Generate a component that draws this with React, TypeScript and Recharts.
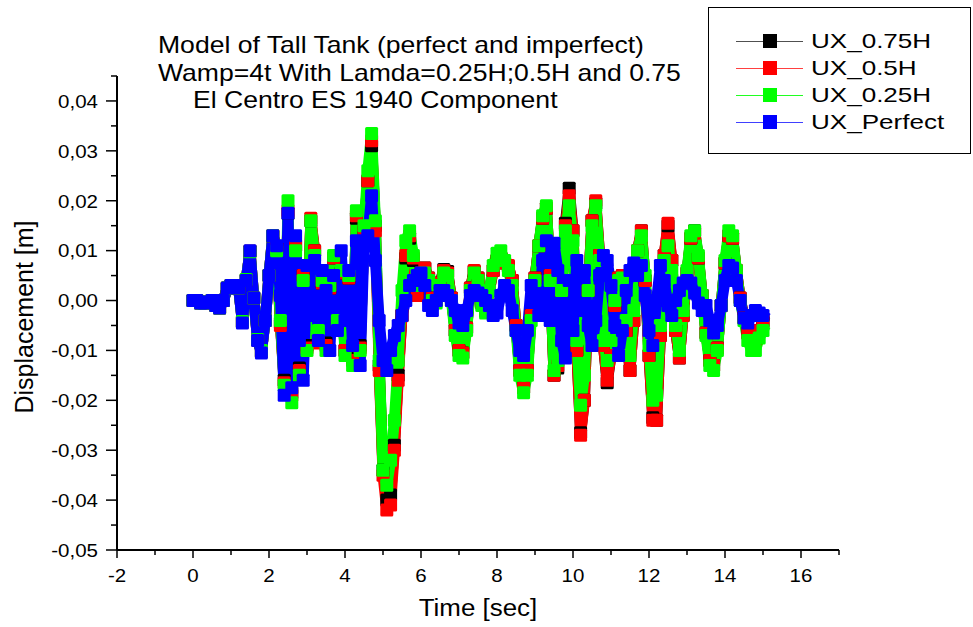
import React from 'react';
import { LineChart, Line, XAxis, YAxis, Legend } from 'recharts';

// sampling grid (s)
const time: number[] = Array.from({ length: 151 }, (_, i) => i / 10);

const uxPerfect: number[] = [
  0.0000, 0.0000, -0.0005, -0.0005, -0.0003, 0.0000, -0.0010, -0.0015, 0.0000, 0.0025,
  0.0030, 0.0030, 0.0025, -0.0045, 0.0040, 0.0100, 0.0005, -0.0080, -0.0105, -0.0040,
  0.0050, 0.0130, 0.0110, 0.0010, -0.0190, 0.0175, -0.0175, 0.0130, -0.0080, -0.0160,
  0.0070, -0.0030, 0.0080, -0.0080, 0.0060, 0.0020, -0.0100, 0.0050, -0.0060, 0.0100,
  -0.0040, 0.0060, -0.0090, 0.0120, -0.0130, 0.0110, 0.0130, 0.0210, 0.0080, -0.0040,
  -0.0120, -0.0140, -0.0100, -0.0070, -0.0050, -0.0030, 0.0000, 0.0030, 0.0040, 0.0050,
  0.0055, 0.0030, -0.0010, -0.0020, 0.0000, 0.0020, 0.0020, 0.0010, 0.0000, -0.0020,
  -0.0045, -0.0050, -0.0020, 0.0010, 0.0020, 0.0015, 0.0010, 0.0000, -0.0010, -0.0030,
  -0.0025, 0.0010, 0.0030, 0.0020, -0.0020, -0.0060, -0.0100, -0.0110, -0.0060, 0.0030,
  0.0010, -0.0030, 0.0080, 0.0120, -0.0040, 0.0115, 0.0060, -0.0080, -0.0115, 0.0040,
  -0.0060, 0.0080, -0.0020, 0.0060, -0.0050, -0.0090, -0.0040, 0.0050, 0.0090, 0.0080,
  0.0030, -0.0050, -0.0110, -0.0060, 0.0020, 0.0060, 0.0075, 0.0050, 0.0070, 0.0010,
  -0.0060, -0.0090, 0.0000, 0.0070, 0.0040, -0.0010, -0.0030, 0.0000, 0.0020, 0.0035,
  0.0040, 0.0035, 0.0015, -0.0005, -0.0020, -0.0010, -0.0040, -0.0065, -0.0050, -0.0010,
  0.0040, 0.0070, 0.0065, 0.0040, 0.0000, -0.0035, -0.0045, -0.0030, -0.0020, -0.0025,
  -0.0030,
];

const ux025H: number[] = [
  0.0000, 0.0000, -0.0005, -0.0005, -0.0003, 0.0000, -0.0010, -0.0015, 0.0000, 0.0025,
  0.0030, 0.0030, 0.0025, -0.0042, 0.0042, 0.0098, 0.0005, -0.0078, -0.0100, -0.0040,
  0.0050, 0.0130, 0.0100, -0.0040, -0.0170, 0.0200, -0.0205, 0.0100, -0.0150, 0.0040,
  -0.0100, 0.0160, 0.0090, -0.0060, 0.0040, -0.0100, 0.0030, 0.0090, -0.0040, 0.0060,
  -0.0110, 0.0050, -0.0130, 0.0180, -0.0100, 0.0150, 0.0260, 0.0335, 0.0160, -0.0120,
  -0.0340, -0.0370, -0.0320, -0.0240, -0.0120, 0.0020, 0.0120, 0.0140, 0.0090, 0.0030,
  0.0050, 0.0055, 0.0040, 0.0000, -0.0005, 0.0030, 0.0055, 0.0050, 0.0000, -0.0070,
  -0.0110, -0.0115, -0.0060, 0.0020, 0.0055, 0.0040, -0.0010, -0.0025, 0.0020, 0.0070,
  0.0095, 0.0100, 0.0080, 0.0060, 0.0030, -0.0060, -0.0150, -0.0185, -0.0150, -0.0040,
  0.0040, 0.0110, 0.0170, 0.0190, 0.0040, -0.0140, -0.0120, 0.0020, 0.0140, 0.0190,
  0.0120, -0.0080, -0.0210, -0.0150, 0.0020, 0.0150, 0.0190, 0.0080, -0.0080, -0.0120,
  -0.0080, 0.0000, 0.0040, 0.0045, -0.0040, -0.0110, -0.0020, 0.0100, 0.0130, 0.0050,
  -0.0090, -0.0200, -0.0190, -0.0050, 0.0080, 0.0110, 0.0060, -0.0050, -0.0100, -0.0020,
  0.0060, 0.0130, 0.0140, 0.0090, 0.0010, -0.0070, -0.0130, -0.0140, -0.0100, -0.0010,
  0.0080, 0.0140, 0.0130, 0.0060, 0.0000, -0.0040, -0.0080, -0.0100, -0.0100, -0.0075,
  -0.0060,
];

const ux05H: number[] = [
  0.0000, 0.0000, -0.0005, -0.0005, -0.0003, 0.0000, -0.0010, -0.0015, 0.0000, 0.0025,
  0.0030, 0.0030, 0.0025, -0.0043, 0.0041, 0.0099, 0.0005, -0.0079, -0.0102, -0.0040,
  0.0050, 0.0130, 0.0105, -0.0050, -0.0165, 0.0180, -0.0190, 0.0110, -0.0140, 0.0050,
  -0.0095, 0.0165, 0.0100, -0.0085, 0.0035, -0.0090, 0.0025, 0.0085, -0.0045, 0.0055,
  -0.0100, 0.0045, -0.0120, 0.0170, -0.0095, 0.0140, 0.0240, 0.0320, 0.0140, -0.0140,
  -0.0350, -0.0420, -0.0410, -0.0300, -0.0160, -0.0030, 0.0090, 0.0130, 0.0085, 0.0010,
  0.0055, 0.0065, 0.0045, 0.0005, 0.0000, 0.0035, 0.0060, 0.0055, 0.0005, -0.0060,
  -0.0100, -0.0105, -0.0055, 0.0025, 0.0060, 0.0045, -0.0005, -0.0020, 0.0020, 0.0060,
  0.0080, 0.0085, 0.0075, 0.0070, 0.0040, -0.0050, -0.0140, -0.0175, -0.0140, -0.0030,
  0.0045, 0.0110, 0.0165, 0.0185, 0.0050, -0.0150, -0.0130, 0.0020, 0.0150, 0.0210,
  0.0140, -0.0100, -0.0270, -0.0200, 0.0020, 0.0160, 0.0200, 0.0090, -0.0090, -0.0160,
  -0.0110, -0.0010, 0.0045, 0.0050, -0.0060, -0.0140, -0.0040, 0.0100, 0.0140, 0.0040,
  -0.0110, -0.0240, -0.0240, -0.0070, 0.0090, 0.0155, 0.0080, -0.0060, -0.0115, -0.0030,
  0.0055, 0.0125, 0.0135, 0.0085, 0.0010, -0.0065, -0.0120, -0.0130, -0.0095, -0.0010,
  0.0075, 0.0130, 0.0125, 0.0060, 0.0005, -0.0035, -0.0065, -0.0080, -0.0080, -0.0060,
  -0.0040,
];

const ux075H: number[] = [
  0.0000, 0.0000, -0.0005, -0.0005, -0.0003, 0.0000, -0.0010, -0.0015, 0.0000, 0.0025,
  0.0030, 0.0030, 0.0025, -0.0043, 0.0041, 0.0099, 0.0005, -0.0079, -0.0102, -0.0040,
  0.0050, 0.0130, 0.0105, -0.0045, -0.0160, 0.0175, -0.0185, 0.0110, -0.0135, 0.0050,
  -0.0090, 0.0160, 0.0100, -0.0080, 0.0035, -0.0085, 0.0025, 0.0085, -0.0045, 0.0055,
  -0.0100, 0.0045, -0.0115, 0.0165, -0.0090, 0.0140, 0.0240, 0.0310, 0.0150, -0.0130,
  -0.0340, -0.0400, -0.0390, -0.0290, -0.0150, -0.0030, 0.0085, 0.0125, 0.0080, 0.0010,
  0.0055, 0.0065, 0.0045, 0.0005, 0.0000, 0.0035, 0.0062, 0.0058, 0.0005, -0.0060,
  -0.0100, -0.0105, -0.0055, 0.0025, 0.0058, 0.0045, -0.0005, -0.0020, 0.0020, 0.0060,
  0.0080, 0.0085, 0.0075, 0.0068, 0.0040, -0.0050, -0.0140, -0.0175, -0.0140, -0.0030,
  0.0045, 0.0110, 0.0165, 0.0185, 0.0050, -0.0150, -0.0135, 0.0020, 0.0155, 0.0225,
  0.0140, -0.0100, -0.0265, -0.0200, 0.0020, 0.0160, 0.0195, 0.0090, -0.0090, -0.0165,
  -0.0110, -0.0010, 0.0045, 0.0050, -0.0060, -0.0140, -0.0040, 0.0100, 0.0140, 0.0040,
  -0.0110, -0.0235, -0.0240, -0.0070, 0.0090, 0.0150, 0.0080, -0.0060, -0.0115, -0.0030,
  0.0055, 0.0125, 0.0140, 0.0085, 0.0010, -0.0065, -0.0120, -0.0130, -0.0095, -0.0010,
  0.0075, 0.0130, 0.0125, 0.0060, 0.0005, -0.0035, -0.0065, -0.0080, -0.0080, -0.0060,
  -0.0042,
];

const seriesNames = ['UX_0.75H', 'UX_0.5H', 'UX_0.25H', 'UX_Perfect'];
const seriesKeys = ['ux075H', 'ux05H', 'ux025H', 'uxPerfect'];
const seriesColors = ['#000000', '#ff0000', '#00ff00', '#0000ff'];
const legendLineColors = ['#505050', '#ff4040', '#20ff20', '#4040ff'];

const xMajorTicks = [-2, 0, 2, 4, 6, 8, 10, 12, 14, 16];
const xMinorTicks = [-1, 1, 3, 5, 7, 9, 11, 13, 15, 17];
const yMajorTicks = [-0.05, -0.04, -0.03, -0.02, -0.01, 0, 0.01, 0.02, 0.03, 0.04];
const yMinorTicks = [-0.045, -0.035, -0.025, -0.015, -0.005, 0.005, 0.015, 0.025, 0.035, 0.045];

const titleLines = [
  'Model of Tall Tank (perfect and imperfect)',
  'Wamp=4t With Lamda=0.25H;0.5H and 0.75',
  'El Centro ES 1940 Component',
];

const data = time.map((t, i) => ({
  t,
  ux075H: ux075H[i],
  ux05H: ux05H[i],
  ux025H: ux025H[i],
  uxPerfect: uxPerfect[i],
}));

const FONT = '"Liberation Sans", Arial, Helvetica, sans-serif';

const fmtY = (v: number) => {
  const s = Math.abs(v).toFixed(2).replace('.', ',');
  return v < -1e-9 ? '-' + s : s;
};

const YTick = (p: any) => {
  const { x, y, payload } = p;
  const v = payload.value;
  const major = yMajorTicks.includes(v);
  return (
    <g>
      <line x1={x - (major ? 11 : 6)} x2={x} y1={y} y2={y} stroke="#000" strokeWidth={1.5} />
      {major && (
        <text
          transform={`translate(${x - 19},${y + 6.8}) scale(1.08,1)`}
          textAnchor="end"
          fontSize={19}
          fontFamily={FONT}
          fill="#000"
        >
          {fmtY(v)}
        </text>
      )}
    </g>
  );
};

const XTick = (p: any) => {
  const { x, y, payload } = p;
  const v = payload.value;
  const major = xMajorTicks.includes(v);
  return (
    <g>
      <line x1={x} x2={x} y1={y} y2={y + (major ? 8 : 5)} stroke="#000" strokeWidth={1.5} />
      {major && (
        <text
          transform={`translate(${x},${y + 32}) scale(1.08,1)`}
          textAnchor="middle"
          fontSize={19}
          fontFamily={FONT}
          fill="#000"
        >
          {String(v)}
        </text>
      )}
    </g>
  );
};

const squareDot = (color: string) => (p: any) => {
  const k = `${color}-${p.index}`;
  if (p.cx == null || p.cy == null || isNaN(p.cx) || isNaN(p.cy)) return <g key={k} />;
  return <rect key={k} x={p.cx - 6.5} y={p.cy - 6.5} width={13} height={13} rx={1.5} fill={color} />;
};

const legendRows = [40, 67, 94, 121];

const LegendBox = () => (
  <div
    style={{
      position: 'relative',
      width: 263,
      height: 147,
      border: '1px solid #000',
      boxSizing: 'border-box',
      background: '#fff',
      fontFamily: FONT,
    }}
  >
    {seriesNames.map((name, i) => {
      const cy = legendRows[i] - 7;
      return (
        <div key={name}>
          <div
            style={{
              position: 'absolute',
              left: 27,
              top: cy - 0.5,
              width: 67,
              height: 1,
              background: legendLineColors[i],
            }}
          />
          <div
            style={{
              position: 'absolute',
              left: 54,
              top: cy - 7,
              width: 14,
              height: 14,
              background: seriesColors[i],
            }}
          />
          <div
            style={{
              position: 'absolute',
              left: 102,
              top: cy - 12,
              height: 24,
              lineHeight: '24px',
              fontSize: 21,
              whiteSpace: 'nowrap',
              transform: 'scaleX(1.24)',
              transformOrigin: 'left center',
              color: '#000',
            }}
          >
            {name}
          </div>
        </div>
      );
    })}
  </div>
);

export default function App() {
  return (
    <div style={{ position: 'absolute', left: 0, top: 0, width: 973, height: 627, background: '#fff', overflow: 'hidden' }}>
      <LineChart
        width={973}
        height={627}
        data={data}
        margin={{ top: 76, right: 134, bottom: 0, left: 0 }}
      >
        <XAxis
          type="number"
          dataKey="t"
          domain={[-2, 17]}
          ticks={[...xMajorTicks, ...xMinorTicks].sort((a, b) => a - b)}
          interval={0}
          height={77}
          tickSize={0}
          tickMargin={0}
          tickLine={false}
          tick={<XTick />}
          axisLine={{ stroke: '#000', strokeWidth: 2 }}
          allowDataOverflow
        />
        <YAxis
          type="number"
          domain={[-0.05, 0.045]}
          ticks={[...yMajorTicks, ...yMinorTicks].sort((a, b) => a - b)}
          interval={0}
          width={117}
          tickSize={0}
          tickMargin={0}
          tickLine={false}
          tick={<YTick />}
          axisLine={{ stroke: '#000', strokeWidth: 2 }}
          allowDataOverflow
        />
        <Legend
          layout="horizontal"
          verticalAlign="middle"
          align="center"
          wrapperStyle={{ left: 708, top: 7, width: 263, height: 147 }}
          content={() => <LegendBox />}
        />
        {seriesKeys.map((k, i) => (
          <Line
            key={k}
            type="linear"
            dataKey={k}
            name={seriesNames[i]}
            stroke={seriesColors[i]}
            strokeWidth={11}
            strokeLinejoin="round"
            strokeLinecap="square"
            dot={squareDot(seriesColors[i])}
            activeDot={false}
            isAnimationActive={false}
          />
        ))}
      </LineChart>
      <svg
        width={973}
        height={627}
        style={{ position: 'absolute', left: 0, top: 0, pointerEvents: 'none' }}
      >
        <g fontFamily={FONT} fill="#000">
          <text transform="translate(158,52.5) scale(1.107,1)" fontSize={24}>{titleLines[0]}</text>
          <text transform="translate(158,80.5) scale(1.107,1)" fontSize={24}>{titleLines[1]}</text>
          <text transform="translate(193,108) scale(1.107,1)" fontSize={24}>{titleLines[2]}</text>
          <text transform="translate(478,615.5) scale(1.08,1)" fontSize={24} textAnchor="middle">Time [sec]</text>
          <text transform="translate(24,317) rotate(-90)" y={9} fontSize={25} textAnchor="middle">Displacement [m]</text>
        </g>
      </svg>
    </div>
  );
}
